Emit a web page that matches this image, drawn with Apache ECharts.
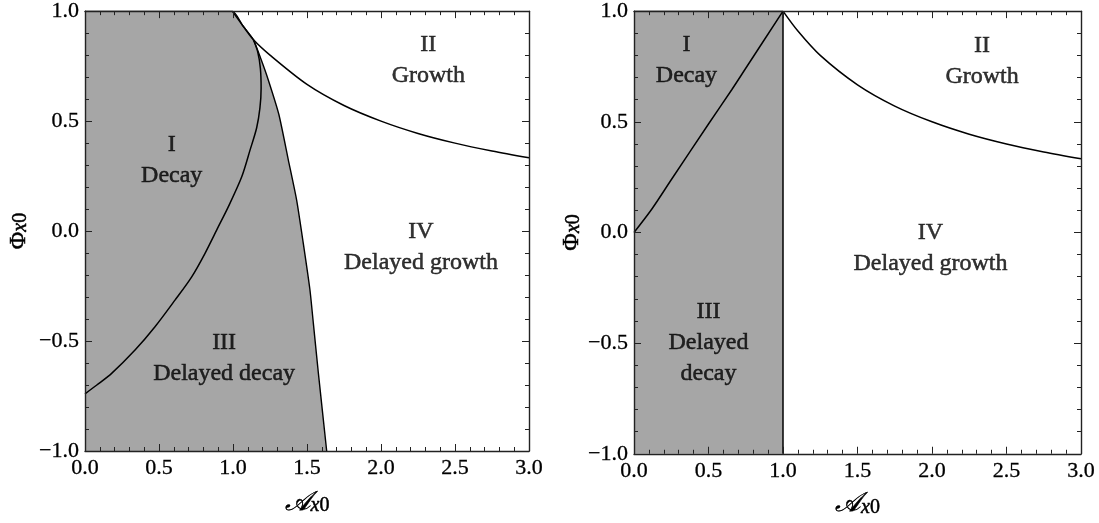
<!DOCTYPE html>
<html>
<head>
<meta charset="utf-8">
<script src="https://cdn.jsdelivr.net/npm/echarts@6/dist/echarts.min.js"></script>
<style>
html,body{margin:0;padding:0;background:#fff;}
#chart{width:1099px;height:523px;}
</style>
</head>
<body>
<div id="chart"></div>
<script>
// ---- Data (A_x0, Phi_x0) ----
// Left panel
const leftDecayBoundary = [[0,-0.74],[0.08,-0.70],[0.18,-0.647],[0.338,-0.541],[0.473,-0.435],[0.608,-0.314],[0.721,-0.208],[0.811,-0.101],[0.901,0.02],[0.968,0.11],[1.059,0.247],[1.115,0.368],[1.16,0.47],[1.182,0.56],[1.19,0.65],[1.185,0.74],[1.167,0.815],[1.137,0.871]];
const leftShadeEdge = [[0,1],[0.995,1],[1.065,0.935],[1.137,0.871],[1.19,0.78],[1.239,0.686],[1.31,0.53],[1.374,0.323],[1.43,0.141],[1.475,-0.056],[1.52,-0.268],[1.543,-0.42],[1.577,-0.647],[1.633,-1.0]];
const leftGrowthBoundary = [[0.995,1.0],[1.065,0.935],[1.137,0.871],[1.25,0.80],[1.5,0.667],[1.75,0.571],[2.0,0.5],[2.25,0.444],[2.5,0.40],[2.75,0.364],[3.0,0.333]];
const leftLabels = [
  {name:'I\nDecay', value:[0.586,0.323]},
  {name:'II\nGrowth', value:[2.32,0.777]},
  {name:'III\nDelayed decay', value:[0.94,-0.577]},
  {name:'IV\nDelayed growth', value:[2.27,-0.075]}
];
// Right panel
const rightShadeEdge = [[0,1],[1,1]];
const rightVertical = [[1,-1],[1,1]];
const rightDecayBoundary = [[0,0],[0.12,0.106],[0.25,0.238],[0.5,0.49],[0.656,0.645],[0.75,0.742],[1,1]];
const rightGrowthBoundary = [[1.0,1.0],[1.1,0.91],[1.25,0.80],[1.5,0.667],[1.75,0.571],[2.0,0.5],[2.25,0.444],[2.5,0.40],[2.75,0.364],[3.0,0.333]];
const rightLabels = [
  {name:'I\nDecay', value:[0.352,0.777]},
  {name:'II\nGrowth', value:[2.336,0.776]},
  {name:'III\nDelayed\ndecay', value:[0.5,-0.497]},
  {name:'IV\nDelayed growth', value:[1.99,-0.073]}
];
const xRange = [0, 3];
const yRange = [-1, 1];
const tickStep = 0.5;

const FONT = '"Liberation Serif", "DejaVu Serif", serif';
const AXIS_COLOR = '#222';
const SHADE = '#a6a6a6';

function fmt(v){
  const s = Math.abs(v).toFixed(1);
  return v < 0 ? '\u2212' + s : s;
}
const heavy = {textBorderColor:'#000', textBorderWidth:0.5};
const nameRich = {
  a:Object.assign({fontFamily:FONT, fontSize:27, color:'#000', fontStyle:'italic'}, heavy),
  p:Object.assign({fontFamily:FONT, fontSize:24, color:'#000'}, heavy),
  x:Object.assign({fontFamily:FONT, fontSize:20, color:'#000', fontStyle:'italic', verticalAlign:'bottom'}, heavy),
  z:Object.assign({fontFamily:FONT, fontSize:20, color:'#000', verticalAlign:'bottom'}, heavy)
};
const tickLabelStyle = Object.assign({fontFamily:FONT, fontSize:22, color:'#000'}, {textBorderColor:'#000', textBorderWidth:0.3});
function xAxis(grid, pos, showLabel, gap){
  return {
    type:'value', gridIndex:grid, position:pos, min:xRange[0], max:xRange[1], interval:tickStep, z:10,
    axisLine:{show:true, onZero:false, lineStyle:{color:AXIS_COLOR, width:1.4}},
    axisTick:{show:true, inside:true, length:7, lineStyle:{color:AXIS_COLOR, width:1}},
    minorTick:{show:true, splitNumber:5, length:4, lineStyle:{color:AXIS_COLOR, width:1}},
    splitLine:{show:false}, minorSplitLine:{show:false},
    axisLabel:Object.assign({show:showLabel, margin:6, formatter:fmt}, tickLabelStyle),
    name: showLabel ? '{a|\uD835\uDC9C}{x|x}{z|0}' : '',
    nameLocation:'middle', nameGap:gap,
    nameTextStyle:{rich:nameRich}
  };
}
function yAxis(grid, pos, showLabel, gap){
  return {
    type:'value', gridIndex:grid, position:pos, min:yRange[0], max:yRange[1], interval:tickStep, z:10,
    axisLine:{show:true, onZero:false, lineStyle:{color:AXIS_COLOR, width:1.4}},
    axisTick:{show:true, inside:true, length:7, lineStyle:{color:AXIS_COLOR, width:1}},
    minorTick:{show:true, splitNumber:5, length:4, lineStyle:{color:AXIS_COLOR, width:1}},
    splitLine:{show:false}, minorSplitLine:{show:false},
    axisLabel:Object.assign({show:showLabel, margin:6, formatter:fmt}, tickLabelStyle),
    name: showLabel ? '{p|\u03A6}{x|x}{z|0}' : '',
    nameLocation:'middle', nameGap:gap, nameRotate:90,
    nameTextStyle:{rich:nameRich}
  };
}
function curve(data, xi, name){
  return {type:'line', name:name, xAxisIndex:xi, yAxisIndex:xi, data:data, showSymbol:false, symbol:'none',
    smooth:0.3, lineStyle:{color:'#000', width:1.5}, z:3, silent:true};
}
function shade(data, xi){
  return {type:'line', xAxisIndex:xi, yAxisIndex:xi, data:data, showSymbol:false, symbol:'none',
    lineStyle:{color:'#000', width:1.4}, areaStyle:{color:SHADE, opacity:1, origin:'start'}, z:1, silent:true, smooth:0.2};
}
function labels(data, xi){
  return {type:'scatter', xAxisIndex:xi, yAxisIndex:xi, data:data, symbolSize:0, itemStyle:{color:'transparent'}, z:4, silent:true,
    label:{show:true, position:'inside', formatter:'{b}', fontFamily:FONT, fontSize:24, lineHeight:31, color:'#000',
      textBorderColor:'#000', textBorderWidth:0.5, align:'center', verticalAlign:'middle'}};
}

const chart = echarts.init(document.getElementById('chart'), null, {renderer:'canvas'});
chart.setOption({
  animation:false,
  backgroundColor:'#fff',
  grid:[
    {left:85, top:11, width:444, height:440},
    {left:634, top:11, width:447, height:445}
  ],
  xAxis:[xAxis(0,'bottom',true,38), xAxis(0,'top',false,0), xAxis(1,'bottom',true,37), xAxis(1,'top',false,0)],
  yAxis:[yAxis(0,'left',true,54), yAxis(0,'right',false,0), yAxis(1,'left',true,48), yAxis(1,'right',false,0)],
  series:[
    shade(leftShadeEdge, 0),
    curve(leftDecayBoundary, 0, 'I/III'),
    curve(leftGrowthBoundary, 0, 'II/IV'),
    labels(leftLabels, 0),
    shade(rightShadeEdge, 2),
    curve(rightVertical, 2, 'A=1'),
    curve(rightDecayBoundary, 2, 'I/III'),
    curve(rightGrowthBoundary, 2, 'II/IV'),
    labels(rightLabels, 2)
  ]
});
</script>
</body>
</html>
